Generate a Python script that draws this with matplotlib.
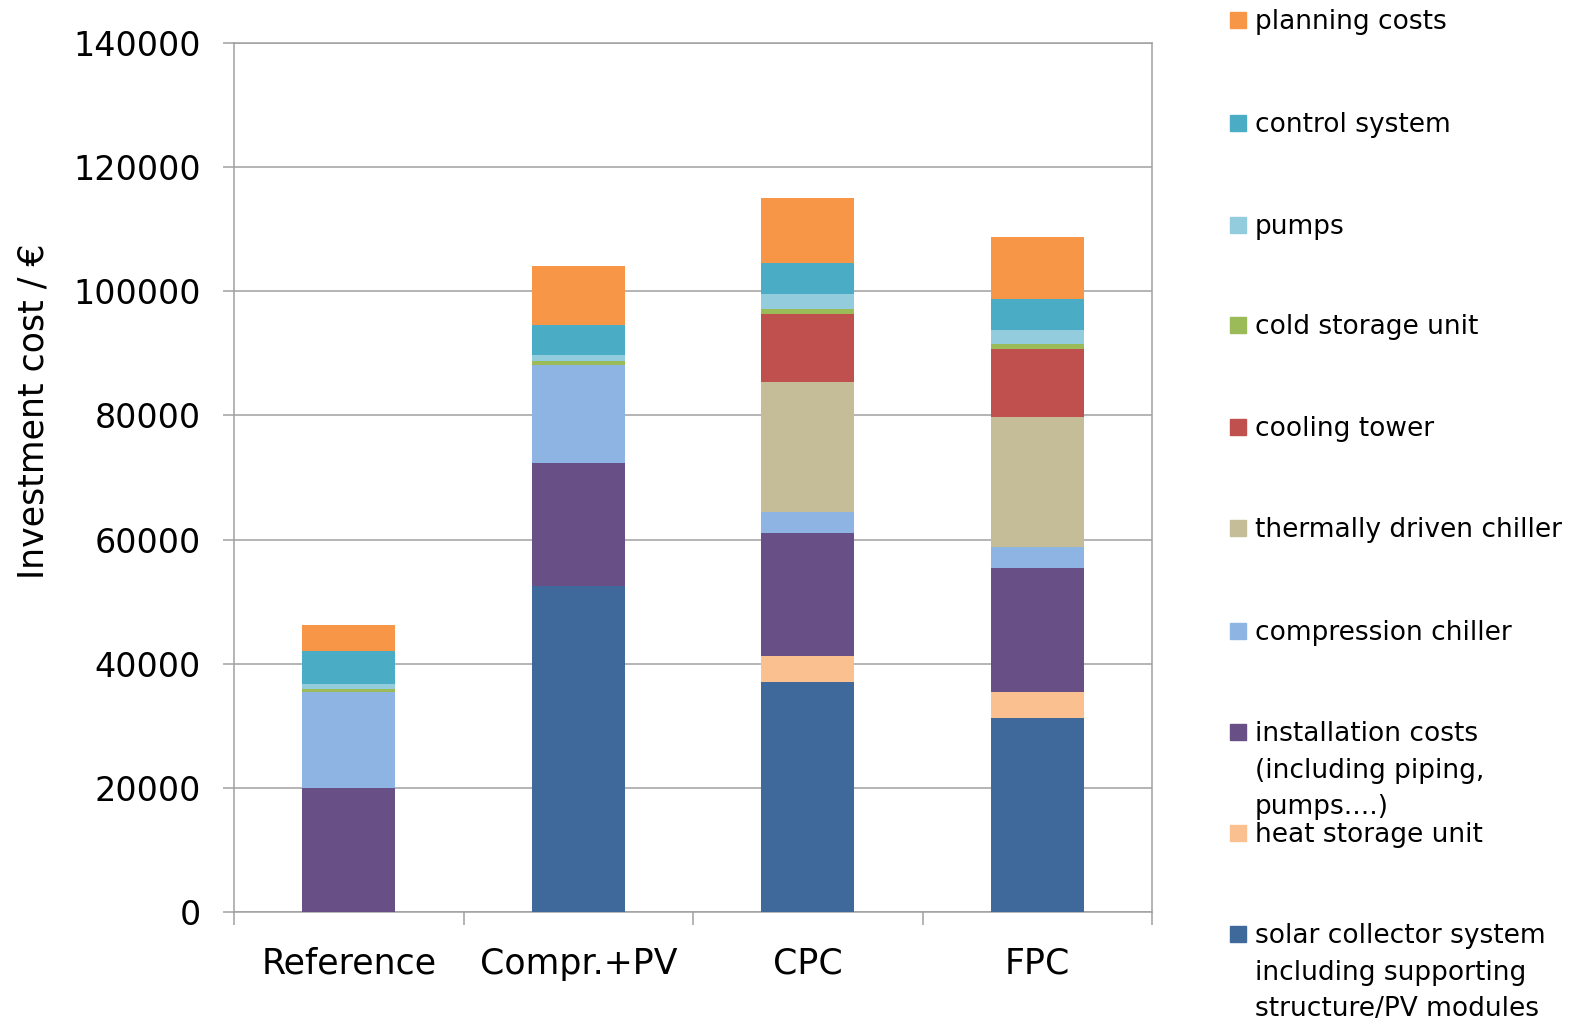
import numpy as np
import matplotlib
matplotlib.use('Agg')
import matplotlib.pyplot as plt
from matplotlib.lines import Line2D

# ---------------------------------------------------------------------------
# data (EUR), bottom-to-top stacking order
# ---------------------------------------------------------------------------
categories = ['Reference', 'Compr.+PV', 'CPC', 'FPC']

solar_collector = [0, 52500, 37100, 31300]
heat_storage = [0, 0, 4200, 4200]
installation = [20000, 19900, 19800, 19900]
compression_chiller = [15400, 15700, 3400, 3400]
thermal_chiller = [0, 0, 20900, 20900]
cooling_tower = [0, 0, 11000, 11000]
cold_storage = [600, 700, 800, 800]
pumps = [800, 900, 2400, 2300]
control_system = [5200, 4900, 5000, 5000]
planning = [4250, 9400, 10400, 10000]

series_labels = [
    'solar collector system\nincluding supporting\nstructure/PV modules',
    'heat storage unit',
    'installation costs\n(including piping,\npumps....)',
    'compression chiller',
    'thermally driven chiller',
    'cooling tower',
    'cold storage unit',
    'pumps',
    'control system',
    'planning costs',
]
series_values = [solar_collector, heat_storage, installation, compression_chiller,
                 thermal_chiller, cooling_tower, cold_storage, pumps,
                 control_system, planning]
series_colors = ['#3F699B', '#FAC090', '#684F86', '#8EB4E3', '#C4BD97',
                 '#C0504D', '#9BBB59', '#93CDDD', '#4BACC6', '#F79646']

# ---------------------------------------------------------------------------
# figure
# ---------------------------------------------------------------------------
plt.rcParams['font.family'] = ['DejaVu Sans']
W, H = 1577, 1023
fig = plt.figure(figsize=(W / 100, H / 100), dpi=100)
ax = fig.add_axes([234 / W, 1 - 912 / H, (1152 - 234) / W, (912 - 43) / H])

grid_col = '#A0A0A0'
x = np.arange(len(categories))
bottom = np.zeros(len(categories))
for vals, col in zip(series_values, series_colors):
    vals = np.array(vals, dtype=float)
    ax.bar(x, vals, width=0.405, bottom=bottom, color=col, linewidth=0, zorder=3)
    bottom += vals

ax.set_xlim(-0.5, len(categories) - 0.5)
ax.set_ylim(0, 140000)
ax.set_yticks(np.arange(0, 140001, 20000))
ax.yaxis.grid(True, color=grid_col, linewidth=1.1, zorder=0)
ax.set_axisbelow(True)

for sp in ax.spines.values():
    sp.set_color(grid_col)
    sp.set_linewidth(1.1)

# category labels between boundary ticks
ax.set_xticks(x)
ax.set_xticklabels(categories, fontsize=25)
ax.set_xticks(np.arange(-0.5, len(categories)), minor=True)
ax.tick_params(axis='x', which='major', length=0, pad=25)
ax.tick_params(axis='x', which='minor', length=9, width=1.1, color=grid_col)
ax.tick_params(axis='y', length=8, width=1.1, color=grid_col, labelsize=24, pad=16)

ax.set_ylabel('Investment cost / €', fontsize=25)
ax.yaxis.set_label_coords(-0.200, 0.5765)

# legend: fixed slots, top entry = last series
slot_centers = [20, 123, 225, 325, 427, 528, 631, 732, 833, 934]
for i, (lab, col) in enumerate(zip(series_labels[::-1], series_colors[::-1])):
    yc = slot_centers[i]
    fig.add_artist(Line2D([1238 / W], [1 - yc / H], marker='s', markersize=11,
                          color=col, linestyle='none', transform=fig.transFigure))
    lines = lab.split('\n')
    for k, line in enumerate(lines):
        fig.text(1255 / W, 1 - (yc + 9 + 36.5 * k) / H, line, fontsize=19,
                 va='baseline', ha='left')

fig.savefig('out.png', dpi=100)
